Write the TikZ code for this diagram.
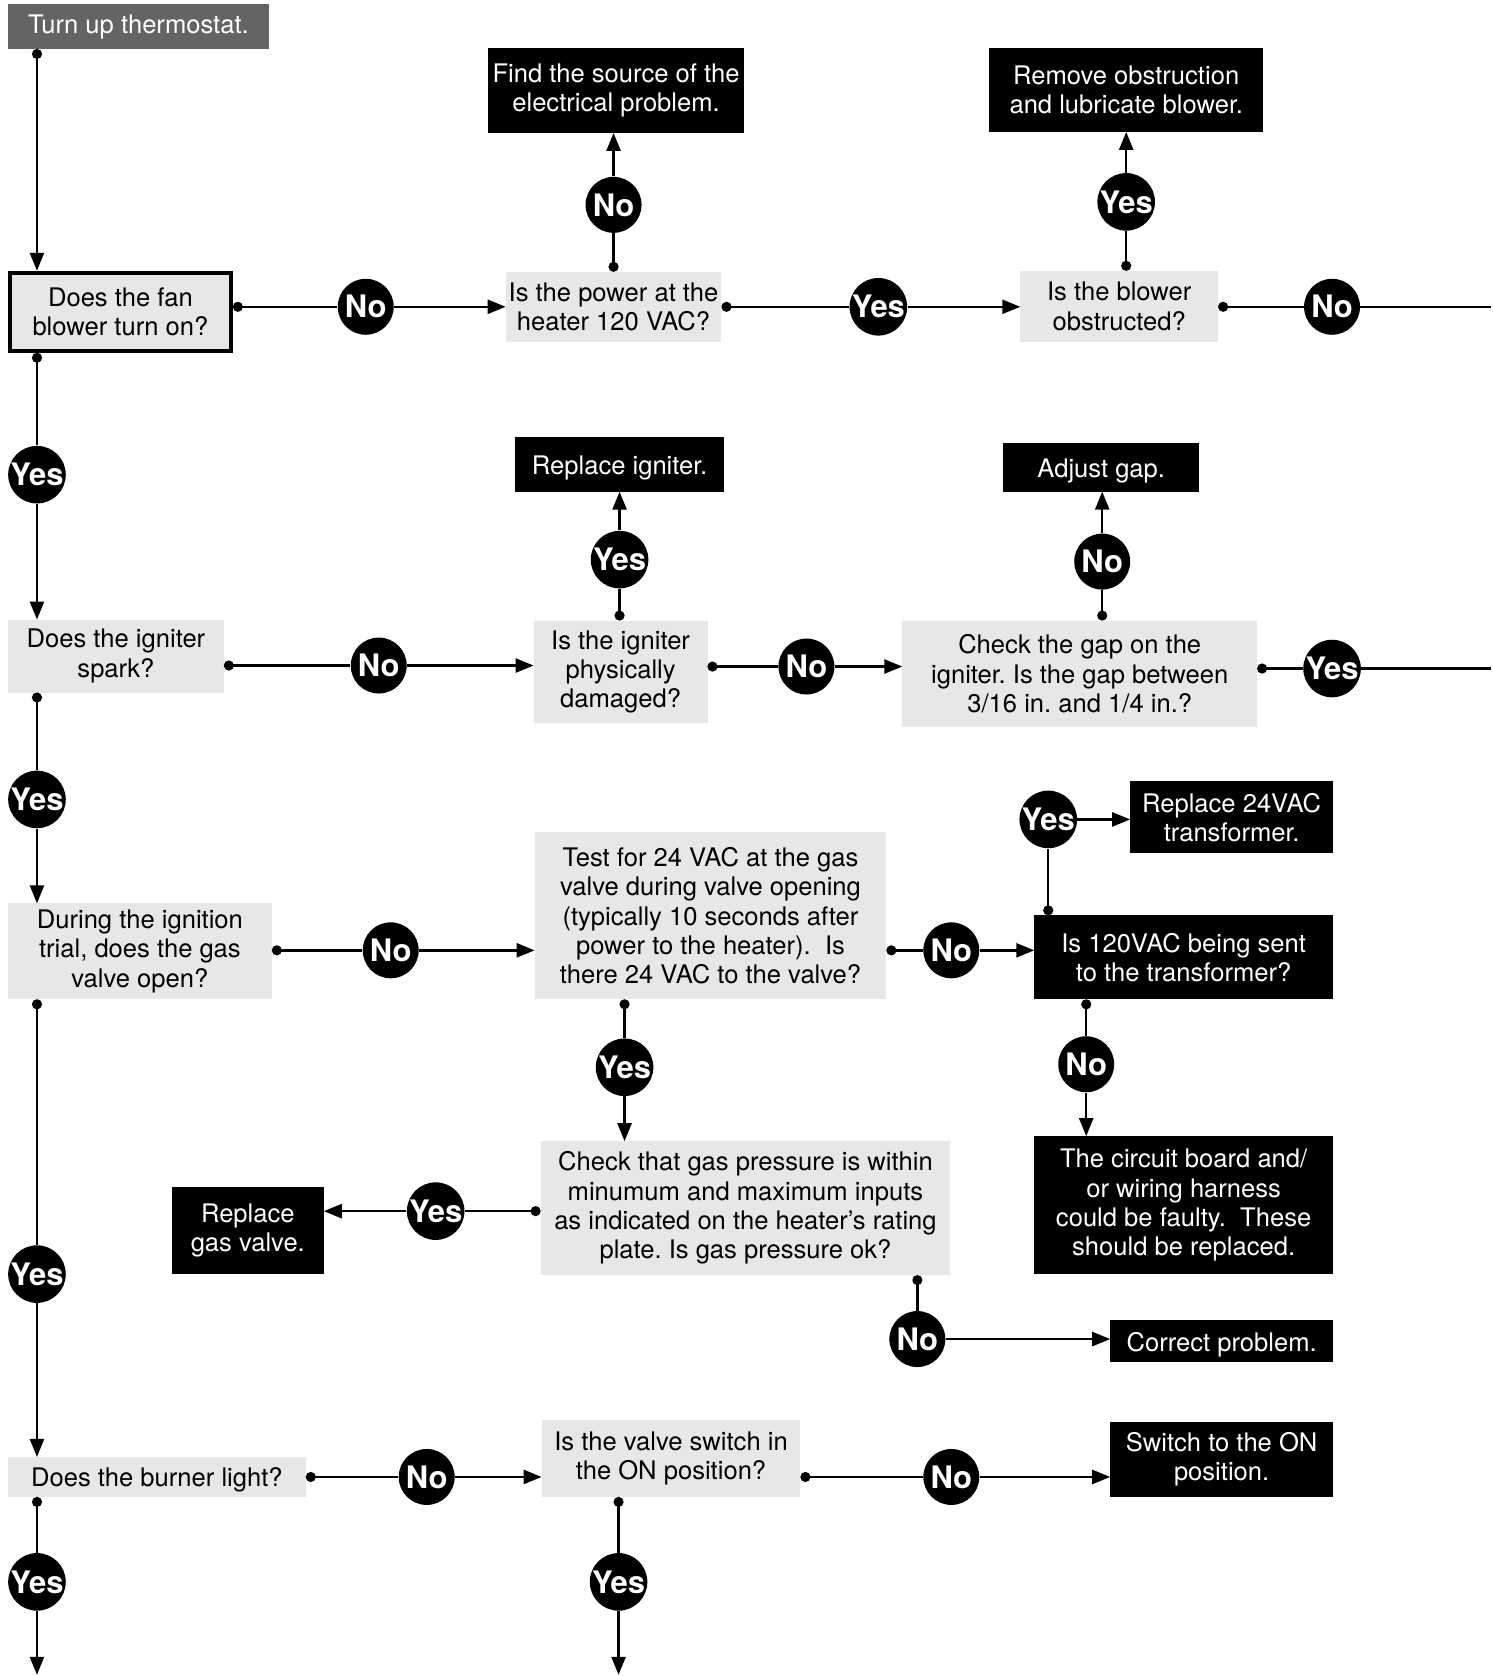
\documentclass[tikz,border=0pt]{standalone}
\usepackage{fontspec}
\setmainfont{TeX Gyre Heros}
\usetikzlibrary{arrows.meta}
\definecolor{boxgray}{RGB}{230,231,232}
\definecolor{thermogray}{RGB}{99,100,102}

\begin{document}
\frenchspacing
\begin{tikzpicture}
        [x=.5pt,y=-.5pt,font=\fontsize{12.8}{14.7}\selectfont,
         wh/.style 2 args={minimum width=#1*.5pt,minimum height=#2*.5pt},
         ask/.style={rectangle,fill=boxgray,align=center,inner sep=0pt,outer sep=0pt},
         act/.style={ask,fill=black,text=white},
         lift/.style={execute at begin node=\rule{0pt}{12.8pt}},
         ans/.style={circle,fill=black,text=white,inner sep=0pt,minimum size=28pt,
                     font=\bfseries\fontsize{15.5}{16}\selectfont},
         stem/.style={line width=1.2pt,{Circle[length=5pt]}-},
         flow/.style={line width=1.2pt,-{Triangle[length=9pt,width=7pt]}},
         trunk/.style={line width=1.2pt,{Circle[length=5pt]}-{Triangle[length=9pt,width=7pt]}}]
        \path[fill=white] (0,0) rectangle (1492,1676);
        \coordinate (spine) at (37,0);

        \node[ask,wh={261}{45},fill=thermogray,text=white] (thermo) at (138.5,26.5) {Turn up thermostat.};
        \node[ask,wh={221}{78},draw,line width=2pt,outer sep=1pt] (fan) at (120.5,312) {Does the fan\\blower turn on?};
        \node[ask,wh={216}{70}] (power) at (614,307) {Is the power at the\\heater 120 VAC?};
        \node[act,wh={257}{85}] (source) at (616.5,90.5) {Find the source of the\\electrical problem.};
        \node[ask,wh={198}{71}] (blower) at (1120,306.5) {Is the blower\\obstructed?};
        \node[act,wh={274}{84}] (remove) at (1127,90) {Remove obstruction\\and lubricate blower.};
        \node[ask,wh={216}{73}] (spark) at (116,656.5) {Does the igniter\\spark?};
        \node[ask,wh={174}{103}] (damaged) at (621,672.5) {Is the igniter\\physically\\damaged?};
        \node[act,lift,wh={210}{55}] (igniter) at (620,464.5) {Replace igniter.};
        \node[ask,wh={355}{107}] (gap) at (1080.5,674.5) {Check the gap on the\\igniter. Is the gap between\\3/16 in. and 1/4 in.?};
        \node[act,lift,wh={196}{49}] (adjust) at (1102,467.5) {Adjust gap.};
        \node[ask,wh={264}{96}] (during) at (140,952) {During the ignition\\trial, does the gas\\valve open?};
        \node[ask,wh={352}{167}] (test) at (711,916.5) {Test for 24 VAC at the gas\\valve during valve opening\\(typically 10 seconds after\\power to the heater).\ \ Is\\there 24 VAC to the valve?};
        \node[act,wh={203}{72}] (xfmr) at (1232.5,818) {Replace 24VAC\\transformer.};
        \node[act,wh={299}{84}] (sent) at (1184.5,958) {Is 120VAC being sent\\to the transformer?};
        \node[act,wh={299}{138}] (circuit) at (1184.5,1206) {The circuit board and/\\or wiring harness\\could be faulty.\ \ These\\should be replaced.};
        \node[ask,wh={410}{134}] (pressure) at (746,1209) {Check that gas pressure is within\\minumum and maximum inputs\\as indicated on the heater’s rating\\plate. Is gas pressure ok?};
        \node[act,wh={152}{87}] (gasvalve) at (248,1231.5) {Replace\\gas valve.};
        \node[act,lift,wh={223}{42}] (correct) at (1222.5,1342) {Correct problem.};
        \node[ask,lift,wh={298}{40}] (burner) at (157,1478) {Does the burner light?};
        \node[ask,wh={259}{77}] (switch) at (671.5,1459.5) {Is the valve switch in\\the ON position?};
        \node[act,wh={223}{75}] (on) at (1222.5,1460.5) {Switch to the ON\\position.};

        \node[ans] (a1) at (366,307) {No};
        \node[ans] (a2) at (614,205) {No};
        \node[ans] (a3) at (879,307) {Yes};
        \node[ans] (a4) at (1127,202) {Yes};
        \node[ans] (a5) at (1333,307) {No};
        \node[ans] (a6) at (37,475) {Yes};
        \node[ans] (a7) at (379,666) {No};
        \node[ans] (a8) at (620,560) {Yes};
        \node[ans] (a9) at (807,667) {No};
        \node[ans] (a10) at (1103,562) {No};
        \node[ans] (a11) at (1333,669) {Yes};
        \node[ans] (a12) at (37,800) {Yes};
        \node[ans] (a13) at (391,951) {No};
        \node[ans] (a14) at (952,951) {No};
        \node[ans] (a15) at (1049,820) {Yes};
        \node[ans] (a16) at (1087,1065) {No};
        \node[ans] (a17) at (625,1068) {Yes};
        \node[ans] (a18) at (436,1212) {Yes};
        \node[ans] (a19) at (918,1340) {No};
        \node[ans] (a20) at (37,1275) {Yes};
        \node[ans] (a21) at (427,1478) {No};
        \node[ans] (a22) at (952,1478) {No};
        \node[ans] (a23) at (37,1583) {Yes};
        \node[ans] (a24) at (619,1583) {Yes};

        \coordinate (e1) at (1492,307);
        \coordinate (e2) at (1492,669);
        \coordinate (e3) at (37,1676);
        \coordinate (e4) at (619,1676);

        \draw[trunk] (thermo.south -| spine) -- (fan.north -| spine);

        \foreach \from/\via/\to in {fan.east |- a1/a1/power.west |- a1,
                power.north -| a2/a2/source.south -| a2,
                power.east |- a3/a3/blower.west |- a3,
                blower.north -| a4/a4/remove.south -| a4,
                fan.south -| a6/a6/spark.north -| a6,
                spark.east |- a7/a7/damaged.west |- a7,
                damaged.north -| a8/a8/igniter.south -| a8,
                damaged.east |- a9/a9/gap.west |- a9,
                gap.north -| a10/a10/adjust.south -| a10,
                spark.south -| a12/a12/during.north -| a12,
                during.east |- a13/a13/test.west |- a13,
                test.east |- a14/a14/sent.west |- a14,
                sent.north -| a15/a15/xfmr.west |- a15,
                sent.south -| a16/a16/circuit.north -| a16,
                test.south -| a17/a17/pressure.north -| a17,
                pressure.west |- a18/a18/gasvalve.east |- a18,
                pressure.south -| a19/a19/correct.west |- a19,
                during.south -| a20/a20/burner.north -| a20,
                burner.east |- a21/a21/switch.west |- a21,
                switch.east |- a22/a22/on.west |- a22,
                burner.south -| a23/a23/e3,
                switch.south -| a24/a24/e4}
            {\draw[stem] (\from) -- (\via);
             \draw[flow] (\via) -- (\to);}

        \foreach \from/\via/\to in {blower.east |- a5/a5/e1, gap.east |- a11/a11/e2}
            {\draw[stem] (\from) -- (\via);
             \draw[line width=1.2pt] (\via) -- (\to);}

      \end{tikzpicture}
\end{document}
